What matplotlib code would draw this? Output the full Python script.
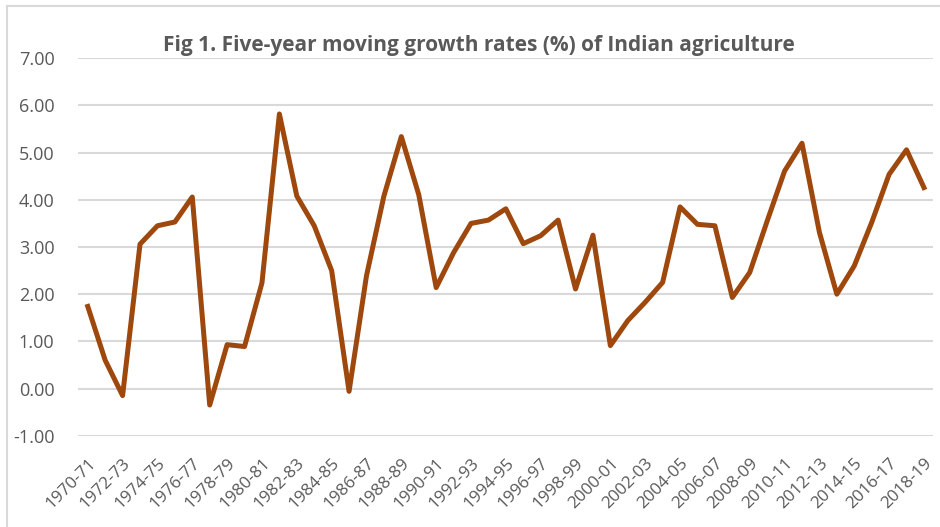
import numpy as np
import matplotlib.pyplot as plt
from matplotlib.lines import Line2D

# five-year moving growth rate (%)
years = [f"{y}-{str(y + 1)[-2:]}" for y in range(1970, 2019)]
growth = [1.74, 0.60, -0.15, 3.06, 3.45, 3.53, 4.06, -0.35, 0.93, 0.89,
          2.24, 5.82, 4.08, 3.45, 2.50, -0.06, 2.39, 4.08, 5.34, 4.11,
          2.14, 2.88, 3.50, 3.57, 3.81, 3.07, 3.24, 3.57, 2.11, 3.25,
          0.91, 1.44, 1.83, 2.25, 3.85, 3.48, 3.45, 1.93, 2.46, 3.55,
          4.61, 5.20, 3.31, 2.00, 2.60, 3.52, 4.54, 5.06, 4.26]
yticks = [-1, 0, 1, 2, 3, 4, 5, 6, 7]

plt.rcParams['font.family'] = ['Open Sans', 'DejaVu Sans']
grey = '#595959'

fig = plt.figure(figsize=(9.4, 5.27), dpi=100)
ax = fig.add_axes([78/940, 1 - 435.7/527, (933 - 78)/940, (435.7 - 58.3)/527])

x = np.arange(len(years))
ax.plot(x, growth, color='#9E480E', lw=3.6, solid_joinstyle='round', zorder=3)

ax.set_ylim(-1, 7)
ax.set_yticks(yticks)
ax.set_yticklabels([f"{v:.2f}" for v in yticks], fontsize=13, color=grey)
ax.set_xlim(-0.56, 48.52)
ax.set_xticks(x[::2])
ax.set_xticklabels(years[::2], rotation=45, ha='right', va='top',
                   rotation_mode='anchor', fontsize=12.3, color=grey)
ax.tick_params(axis='both', length=0)
ax.tick_params(axis='y', pad=17)
ax.tick_params(axis='x', pad=14)
ax.grid(axis='y', color='#D9D9D9', lw=1.5)
ax.set_axisbelow(True)
for s in ax.spines.values():
    s.set_visible(False)

fig.text(479/940, 1 - 45/527, "Fig 1. Five-year moving growth rates (%) of Indian agriculture",
         ha='center', va='center', fontsize=15, fontweight='bold', color=grey,
         bbox=dict(facecolor='white', edgecolor='none', pad=2), zorder=5)

# chart frame (only top and left edges fall inside the picture)
fig.add_artist(Line2D([7/940, 7/940], [0, 1 - 6/527], transform=fig.transFigure, color='#D9D9D9', lw=1.5))
fig.add_artist(Line2D([7/940, 1], [1 - 6/527, 1 - 6/527], transform=fig.transFigure, color='#D9D9D9', lw=1.5))

fig.savefig('out.png', dpi=100)
